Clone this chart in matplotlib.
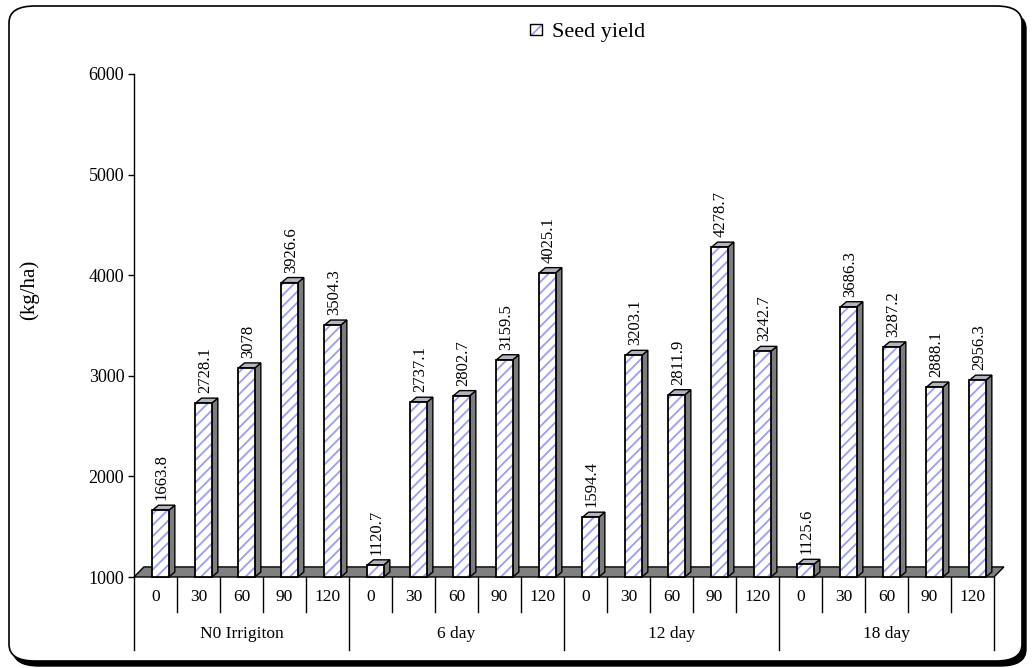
import matplotlib.pyplot as plt
from matplotlib.patches import Rectangle, Polygon, FancyBboxPatch, Patch

plt.rcParams["font.family"] = ["Liberation Serif", "DejaVu Serif"]
plt.rcParams["hatch.linewidth"] = 1.3

groups = ["N0 Irrigiton", "6 day", "12 day", "18 day"]
nitrogen = ["0", "30", "60", "90", "120"]
seed_yield = [
    1663.8, 2728.1, 3078, 3926.6, 3504.3,
    1120.7, 2737.1, 2802.7, 3159.5, 4025.1,
    1594.4, 3203.1, 2811.9, 4278.7, 3242.7,
    1125.6, 3686.3, 3287.2, 2888.1, 2956.3,
]

W, H = 1034, 668
fig = plt.figure(figsize=(W / 100, H / 100), dpi=100)

# outer frame with a drop shadow
shadow = FancyBboxPatch((13 / W, 2 / H), 1013 / W, 654 / H,
                        boxstyle="round,pad=0,rounding_size=0.025",
                        transform=fig.transFigure, fc="black", ec="black",
                        lw=1, zorder=-3)
frame = FancyBboxPatch((9 / W, 7 / H), 1013 / W, 655 / H,
                       boxstyle="round,pad=0,rounding_size=0.025",
                       transform=fig.transFigure, fc="white", ec="black",
                       lw=1.2, zorder=-2)
fig.patches.extend([shadow, frame])

ax = fig.add_axes([134 / W, (H - 577) / H, 860 / W, 503 / H])
ax.patch.set_visible(False)
ax.set_xlim(-0.5, 19.5)
ax.set_ylim(1000, 6000)
for side in ("top", "right", "bottom"):
    ax.spines[side].set_visible(False)
ax.spines["left"].set_linewidth(1.0)
ax.set_yticks(range(1000, 6001, 1000))
ax.tick_params(axis="y", direction="out", length=4, width=1, labelsize=13, pad=3)
ax.set_xticks([])

# gray floor of the 3-D plot
fdx, fdy = 0.23, 100
floor = Polygon([(-0.5, 1000), (19.5, 1000), (19.5 + fdx, 1000 + fdy),
                 (-0.5 + fdx, 1000 + fdy)], closed=True, fc="#808080",
                ec="black", lw=1, clip_on=False, zorder=2)
ax.add_patch(floor)

# bars: hatched front, dark side, light top
bw, off = 0.38, 0.12
dx, dy = 0.14, 50
hatch_col = "#9c9cf6"
for i, v in enumerate(seed_yield):
    x0 = i + off - bw / 2
    x1 = x0 + bw
    side = Polygon([(x1, 1000), (x1 + dx, 1000 + dy), (x1 + dx, v + dy), (x1, v)],
                   closed=True, fc="#7c7c7c", ec="black", lw=1, clip_on=False, zorder=3)
    top = Polygon([(x0, v), (x1, v), (x1 + dx, v + dy), (x0 + dx, v + dy)],
                  closed=True, fc="#b4b4bc", ec="black", lw=1, clip_on=False, zorder=3)
    front_fill = Rectangle((x0, 1000), bw, v - 1000, fc="white", ec=hatch_col,
                           hatch="///", lw=0, clip_on=False, zorder=4)
    front_edge = Rectangle((x0, 1000), bw, v - 1000, fc="none", ec="black",
                           lw=1.3, clip_on=False, zorder=5)
    for p in (side, top, front_fill, front_edge):
        ax.add_patch(p)
    ax.text(i + off + 0.03, v + dy + 50, f"{v:g}", rotation=90, ha="center",
            va="bottom", fontsize=12, zorder=6)

# two-level category axis below the floor
xt = ax.get_xaxis_transform()
for k in range(21):
    x = k - 0.5
    y_end = -0.145 if k % 5 == 0 else -0.07
    ax.plot([x, x], [0, y_end], color="black", lw=1, transform=xt, clip_on=False)
for i in range(20):
    ax.text(i, -0.04, nitrogen[i % 5], transform=xt, ha="center", va="center",
            fontsize=12.5)
for g, name in enumerate(groups):
    ax.text(g * 5 + 2, -0.113, name, transform=xt, ha="center", va="center",
            fontsize=12.5)

fig.text(29 / W, 1 - 290 / H, "(kg/ha)", rotation=90, ha="center", va="center",
         fontsize=15)

handle = (Patch(fc="white", ec=hatch_col, hatch="///", lw=0),
          Patch(fc="none", ec="black", lw=1))
fig.legend([handle], ["Seed yield"], loc="center left",
           bbox_to_anchor=(530 / W, 1 - 33 / H), frameon=False, fontsize=16,
           handlelength=0.55, handleheight=0.4, handletextpad=0.45,
           borderpad=0, borderaxespad=0)

fig.savefig("out.png", dpi=100)
